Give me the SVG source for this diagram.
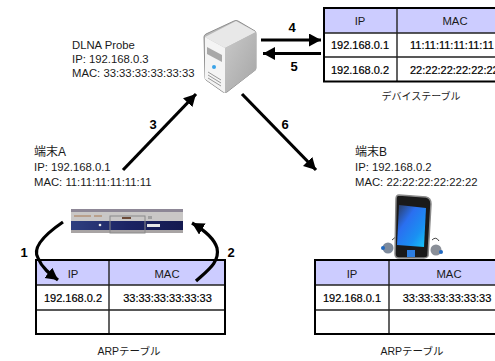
<svg xmlns="http://www.w3.org/2000/svg" width="495" height="361" viewBox="0 0 495 361">
<style>
text{font-family:"Liberation Sans","Noto Sans CJK JP",sans-serif;font-size:11.3px;fill:#1a1a1a}
.c{text-anchor:middle}
.j{font-size:10px}
.t{font-size:12px}
.n{font-weight:bold;font-size:13px;fill:#000;text-anchor:middle}
.b{font-size:11px;fill:#000;text-anchor:middle;stroke:#000;stroke-width:.2px}
.h{fill:#ccccff}
.g{fill:none;stroke:#222;stroke-width:1.4}
.o{fill:none;stroke:#000;stroke-width:2}
.a{fill:none;stroke:#000;stroke-width:3.2}
</style>
<defs>
<marker id="m" markerUnits="userSpaceOnUse" markerWidth="14" markerHeight="14" refX="12" refY="6.5" orient="auto"><path d="M0 0L12 6.5L0 13z" fill="#000"/></marker>
<linearGradient id="sv" x1="0" y1="0" x2="1" y2="1"><stop offset="0" stop-color="#c9c9c9"/><stop offset="1" stop-color="#a5a5a5"/></linearGradient>
<linearGradient id="ph" x1="0" y1="0" x2="1" y2="1"><stop offset="0" stop-color="#2b3a5a"/><stop offset=".35" stop-color="#2a6ff0"/><stop offset=".7" stop-color="#1a90f2"/><stop offset="1" stop-color="#14c8f6"/></linearGradient>
<linearGradient id="nv" x1="0" y1="0" x2="1" y2="0"><stop offset="0" stop-color="#2f3f80"/><stop offset=".5" stop-color="#1c2464"/><stop offset="1" stop-color="#141a50"/></linearGradient>
</defs>
<g id="connectors">
<path class="a" d="M261 40H321" marker-end="url(#m)"/>
<path class="a" d="M321 53.500H263" marker-end="url(#m)"/>
<path class="a" d="M123 170L196 94" marker-end="url(#m)"/>
<path class="a" d="M242 94L316 170" marker-end="url(#m)"/>
</g>
<g id="server">
<path d="M204 37Q204 35 206 34L234 21Q236 20 238 21L255 31Q256 32 256 34V68Q256 70 254 71L227 92Q225 93 223 92L206 80Q205 79 205 77z" fill="#b8b8b8" stroke="#8f8f8f"/>
<path d="M205 37L236 21L256 32L225 48z" fill="#e8e8e8"/>
<path d="M205 37L225 48V93L205 79z" fill="#f4f4f4"/>
<path d="M225 48L256 32V70L225 93z" fill="url(#sv)"/>
<path d="M207 47L222 55V60L207 52zM207 52L222 60V62L207 54z" fill="#a8a8a8"/>
<circle cx="214" cy="67" r="2" fill="#3aa3e8"/>
<path d="M208 75L221 83M208 78L221 86M208 72L221 80" stroke="#999" fill="none"/>
</g>
<g id="probe-label">
<text x="72" y="49">DLNA Probe</text>
<text x="72" y="63">IP: 192.168.0.3</text>
<text x="72" y="77">MAC: 33:33:33:33:33:33</text>
</g>
<g id="device-table">
<rect class="h" x="324" y="8" width="171" height="25"/>
<path class="g" d="M495 33H324M495 57H324M397 8V82"/>
<path class="o" d="M497 8H324V81.500H497"/>
<text class="c" x="360" y="25">IP</text>
<text class="c" x="455" y="25">MAC</text>
<text class="b" x="360" y="49">192.168.0.1</text>
<text class="b" x="410" y="49" style="text-anchor:start">11:11:11:11:11:11</text>
<text class="b" x="360" y="74">192.168.0.2</text>
<text class="b" x="410" y="74" style="text-anchor:start">22:22:22:22:22:22</text>
<text class="c j" x="421" y="100">デバイステーブル</text>
</g>
<g id="terminal-a">
<text class="t" x="34" y="156">端末A</text>
<text x="34" y="171">IP: 192.168.0.1</text>
<text x="34" y="186">MAC: 11:11:11:11:11:11</text>
<rect x="71" y="209" width="112" height="24" fill="#c9c7c6"/>
<rect x="71" y="209" width="112" height="3" fill="#8d8796"/>
<rect x="71" y="221" width="112" height="9" fill="url(#nv)"/>
<rect x="71" y="230" width="112" height="3" fill="#a8a4a4"/>
<path d="M74 216H91M94 216H102" stroke="#a87850" fill="none"/>
<rect x="122" y="217" width="9" height="2" fill="#6b4a38"/>
<rect x="110" y="216" width="35" height="17" fill="none" stroke="#8a8a8a"/>
<rect x="148" y="216" width="4" height="3" fill="#a0a0a0"/>
<rect x="147" y="224" width="13" height="3" fill="#e8e8e8"/>
<circle cx="100" cy="225" r="1.300" fill="#eee"/>
</g>
<g id="terminal-a-arp">
<rect class="h" x="36" y="260" width="189" height="25"/>
<path class="g" d="M36 285H225M36 310H225M109 260V334"/>
<rect class="o" x="36" y="260" width="189" height="74"/>
<text class="c" x="73" y="278">IP</text>
<text class="c" x="167" y="278">MAC</text>
<text class="b" x="73" y="302">192.168.0.2</text>
<text class="b" x="167.500" y="302">33:33:33:33:33:33</text>
<text class="c" x="129" y="355" style="font-size:10.5px">ARPテーブル</text>
</g>
<g id="arp-arrows">
<path class="a" d="M63 222C44 235 32 248 38 258C42 268 50 274 58 280" marker-end="url(#m)"/>
<path class="a" d="M196 281C208 270 220 262 217 248C214 238 204 230 192 223" marker-end="url(#m)"/>
</g>
<g id="terminal-b">
<text class="t" x="355" y="156">端末B</text>
<text x="355" y="171">IP: 192.168.0.2</text>
<text x="355" y="186">MAC: 22:22:22:22:22:22</text>
<path d="M392 240Q395 236 398 238M432 240Q436 236 439 241" stroke="#444" fill="none"/>
<circle cx="388" cy="248" r="5.500" fill="#7d8a9c"/>
<circle cx="436" cy="250" r="5.500" fill="#8a8f98"/>
<circle cx="383" cy="248" r="2" fill="#2068c0"/>
<circle cx="441" cy="252" r="2" fill="#2068c0"/>
<path d="M399 195L426 197Q431 198 431 204L428 256Q427 258 424 258H399Q395 258 395 254L396 199Q396 195 399 195z" fill="#1a1a1a" stroke="#8a8a8a" stroke-width="1.500"/>
<path d="M399 205L426 208L424 247L397 245z" fill="url(#ph)"/>
<rect x="407" y="250" width="8" height="7" fill="#2c7de0"/>
</g>
<g id="terminal-b-arp">
<rect class="h" x="315" y="260" width="180" height="25"/>
<path class="g" d="M315 285H495M315 310H495M389 260V334"/>
<path class="o" d="M497 260H315V334H497"/>
<text class="c" x="352" y="278">IP</text>
<text class="c" x="449" y="278">MAC</text>
<text class="b" x="352" y="302">192.168.0.1</text>
<text class="b" x="447" y="302">33:33:33:33:33:33</text>
<text class="c" x="412" y="355" style="font-size:10.5px">ARPテーブル</text>
</g>
<g id="step-labels">
<text class="n" x="24" y="257">1</text>
<text class="n" x="231" y="257">2</text>
<text class="n" x="153" y="129">3</text>
<text class="n" x="292" y="32">4</text>
<text class="n" x="294" y="71">5</text>
<text class="n" x="285" y="129">6</text>
</g>
</svg>
